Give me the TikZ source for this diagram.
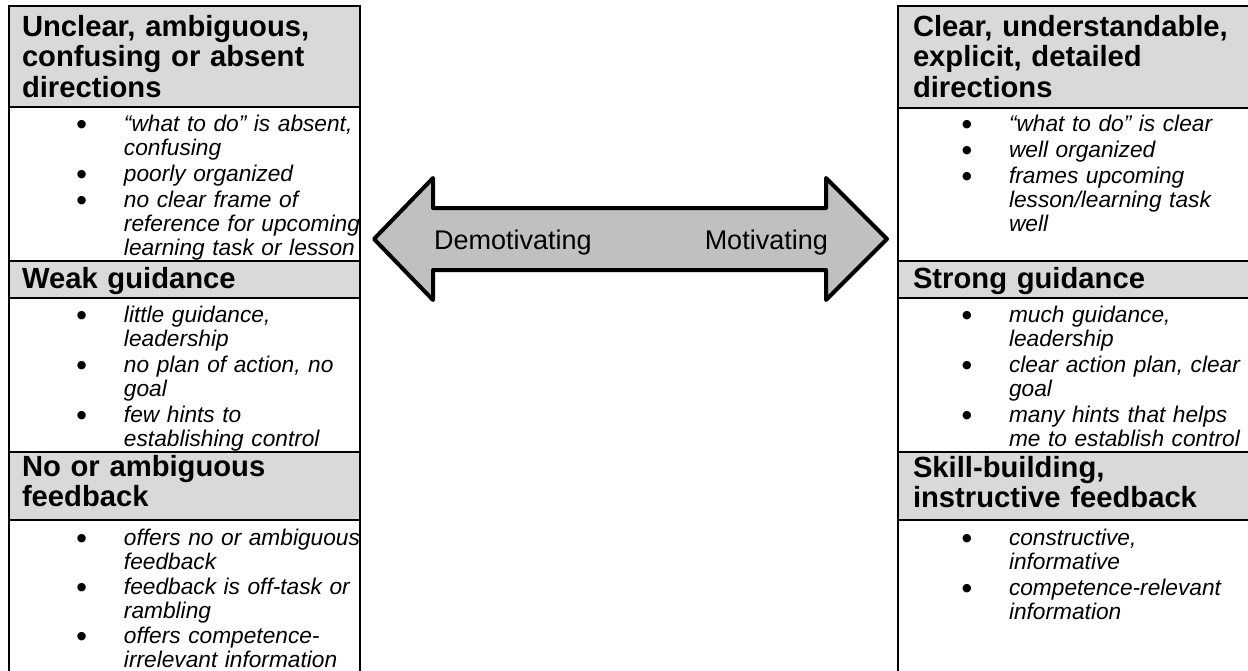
\documentclass[tikz,border=0pt]{standalone}
\usepackage{fontspec}
\setmainfont{Liberation Sans}
\newfontfamily\symfont{DejaVu Sans}
\usetikzlibrary{positioning}
\definecolor{hdrgray}{HTML}{D9D9D9}
\definecolor{arrgray}{HTML}{C0C0C0}
\newcommand{\bul}{\raisebox{4pt}{\symfont\fontsize{11}{11}\selectfont ●}}
\newcommand{\blist}[2]{\begin{tabular}[t]{@{\hspace{#1}}p{47pt}@{}l@{}}#2\end{tabular}}

\begin{document}
\begin{tikzpicture}[x=1pt,y=-1pt,
    hdr/.style={draw,fill=hdrgray,line width=2pt,outer sep=0pt,inner ysep=0pt,align=left,
      font=\fontsize{29.2}{30.5}\selectfont\bfseries},
    body/.style={draw,line width=2pt,outer sep=0pt,inner sep=0pt,align=left,
      font=\fontsize{22.7}{24}\selectfont\itshape},
    lhd/.style={hdr,inner xsep=13pt,text width=325pt},
    rhd/.style={hdr,inner xsep=15pt,text width=340pt},
    lbd/.style={body,text width=351pt},
    rbd/.style={body,text width=370pt},
    lbl/.style={font=\fontsize{27}{30}\selectfont,inner sep=0pt},
    dbl/.style={fill=arrgray,draw,line width=4pt,line join=round},
    node distance=0pt]
  \useasboundingbox (0,0) rectangle (1248,670);
  \fill[white] (0,0) rectangle (1248,670);

  % left column
  \node[lhd,text height=30pt,text depth=71pt,anchor=north west] (lh1) at (9,6)
    {Unclear, ambiguous,\\confusing or absent\\directions};
  \node[lbd,text height=24pt,text depth=130pt,below=of lh1] (lb1)
    {\blist{68pt}{\bul & “what to do” is absent,\\ & confusing\\[2pt]
      \bul & poorly organized\\[2pt]
      \bul & no clear frame of\\ & reference for upcoming\\ & learning task or lesson}};
  \node[lhd,text height=27pt,text depth=10pt,below=of lb1] (lh2) {Weak guidance};
  \node[lbd,text height=24pt,text depth=130pt,below=of lh2] (lb2)
    {\blist{68pt}{\bul & little guidance,\\ & leadership\\[2pt]
      \bul & no plan of action, no\\ & goal\\[2pt]
      \bul & few hints to\\ & establishing control}};
  \node[lhd,text height=24pt,text depth=44pt,below=of lb2] (lh3) {No or ambiguous\\feedback};
  \node[lbd,text height=25pt,text depth=145pt,below=of lh3] (lb3)
    {\blist{68pt}{\bul & offers no or ambiguous\\ & feedback\\[1pt]
      \bul & feedback is off-task or\\ & rambling\\[1pt]
      \bul & offers competence-\\ & irrelevant information}};

  % right column
  \node[rhd,text height=30pt,text depth=72pt,anchor=north west] (rh1) at (898,6)
    {Clear, understandable,\\explicit, detailed\\directions};
  \node[rbd,text height=23pt,text depth=130pt,below=of rh1] (rb1)
    {\blist{64pt}{\bul & “what to do” is clear\\[2pt]
      \bul & well organized\\[2pt]
      \bul & frames upcoming\\ & lesson/learning task\\ & well}};
  \node[rhd,text height=27pt,text depth=10pt,below=of rb1] (rh2) {Strong guidance};
  \node[rbd,text height=24pt,text depth=130pt,below=of rh2] (rb2)
    {\blist{64pt}{\bul & much guidance,\\ & leadership\\[2pt]
      \bul & clear action plan, clear\\ & goal\\[2pt]
      \bul & many hints that helps\\ & me to establish control}};
  \node[rhd,text height=25pt,text depth=43pt,below=of rb2] (rh3) {Skill-building,\\instructive feedback};
  \node[rbd,text height=25pt,text depth=145pt,below=of rh3] (rb3)
    {\blist{64pt}{\bul & constructive,\\ & informative\\[2pt]
      \bul & competence-relevant\\ & information}};

  % double arrow
  \draw[dbl] (374,239) -- (433,178) -- (433,208) -- (826,208) -- (826,178) -- (887,239)
    -- (826,300) -- (826,270) -- (433,270) -- (433,300) -- cycle;
  \node[lbl,anchor=base west] (demot) at (434,249) {Demotivating};
  \node[lbl,anchor=base east] (motiv) at (828,249) {Motivating};
\end{tikzpicture}
\end{document}
